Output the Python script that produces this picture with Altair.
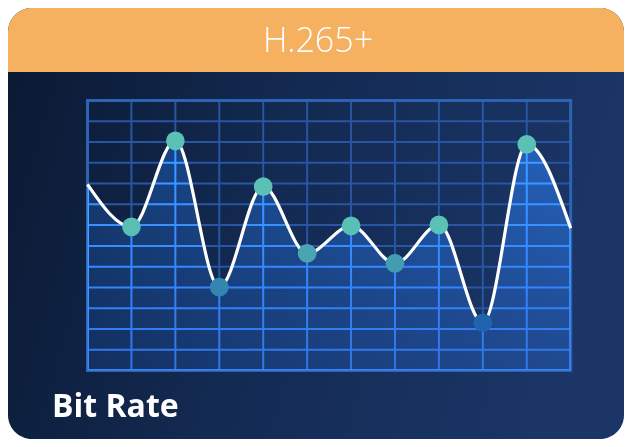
import altair as alt
import pandas as pd

# ---- data ----
x_index = list(range(12))
bit_rate = [8.96, 6.92, 11.06, 4.01, 8.85, 5.64, 6.96, 5.16, 7.01, 2.30, 10.89, 6.85]
marker_index = list(range(1, 11))
v_grid = list(range(12))
h_grid = list(range(14))
title_text = "H.265+"
label_text = "Bit Rate"

W, H = 616, 431

curve = pd.DataFrame({"i": x_index, "v": bit_rate})
markers = curve[curve["i"].isin(marker_index)]
vg = pd.DataFrame({"g": v_grid, "lo": 0, "hi": 13})
hg = pd.DataFrame({"g": h_grid, "lo": 0, "hi": 11})
frame = pd.DataFrame({"x0": [0], "x1": [11], "y0": [0], "y1": [13]})

xs = alt.Scale(domain=[0, 11], range=[79.5, 562.7], nice=False, zero=False)
ys = alt.Scale(domain=[0, 13], range=[362.5, 92.5], nice=False, zero=True)

one = alt.Data(values=[{}])

card = alt.Chart(one).mark_rect(
    cornerRadius=24,
    color=alt.LinearGradient(
        gradient="linear", x1=0, y1=0, x2=1, y2=0.2,
        stops=[alt.GradientStop(color="#0B1932", offset=0),
               alt.GradientStop(color="#132A52", offset=0.5),
               alt.GradientStop(color="#1A3566", offset=1)],
    ),
).encode(x=alt.value(0), x2=alt.value(W), y=alt.value(0), y2=alt.value(H))

header = alt.Chart(one).mark_rect(
    cornerRadiusTopLeft=24, cornerRadiusTopRight=24, color="#F5B060"
).encode(x=alt.value(0), x2=alt.value(W), y=alt.value(0), y2=alt.value(64))

grid_color = "#2856A3"
vrules = alt.Chart(vg).mark_rule(color=grid_color, strokeWidth=2).encode(
    x=alt.X("g:Q", scale=xs, axis=None),
    y=alt.Y("lo:Q", scale=ys, axis=None),
    y2="hi:Q",
)
hrules = alt.Chart(hg).mark_rule(color=grid_color, strokeWidth=2).encode(
    y=alt.Y("g:Q", scale=ys, axis=None),
    x=alt.X("lo:Q", scale=xs, axis=None),
    x2="hi:Q",
)
border = alt.Chart(frame).mark_rect(fillOpacity=0, stroke="#2E62B5", strokeWidth=3).encode(
    x=alt.X("x0:Q", scale=xs, axis=None), x2="x1:Q",
    y=alt.Y("y0:Q", scale=ys, axis=None), y2="y1:Q",
)

area = alt.Chart(curve).mark_area(
    interpolate="monotone",
    blend="color-dodge",
    color=alt.LinearGradient(
        gradient="linear", x1=0, y1=0, x2=0, y2=1,
        stops=[alt.GradientStop(color="#527878", offset=0),
               alt.GradientStop(color="#426262", offset=0.5),
               alt.GradientStop(color="#2C4448", offset=1)],
    ),
).encode(x=alt.X("i:Q", scale=xs, axis=None), y=alt.Y("v:Q", scale=ys, axis=None))

line = alt.Chart(curve).mark_line(
    interpolate="monotone", color="white", strokeWidth=3.2
).encode(x=alt.X("i:Q", scale=xs, axis=None), y=alt.Y("v:Q", scale=ys, axis=None))

points = alt.Chart(markers).mark_circle(size=350, opacity=1).encode(
    x=alt.X("i:Q", scale=xs, axis=None),
    y=alt.Y("v:Q", scale=ys, axis=None),
    color=alt.Color("v:Q", scale=alt.Scale(domain=[2.3, 7.0], range=["#2063AE", "#5BC0B5"],
                                           clamp=True, interpolate="rgb"), legend=None),
)

title = alt.Chart(alt.Data(values=[{"t": title_text}])).mark_text(
    font="Open Sans", fontSize=34, fontWeight=300, color="white",
    align="center", baseline="middle",
).encode(x=alt.value(310), y=alt.value(34), text="t:N")

label = alt.Chart(alt.Data(values=[{"t": label_text}])).mark_text(
    font="Open Sans", fontSize=32, fontWeight="bold", color="white",
    align="left", baseline="alphabetic",
).encode(x=alt.value(44), y=alt.value(409), text="t:N")

chart = alt.layer(card, header, vrules, hrules, border, area, line, points, title, label).properties(
    width=W, height=H, padding=0, autosize=alt.AutoSizeParams(type="none"),
    background="white",
).configure_view(stroke=None)

chart.save("out.html", embed_options={"renderer": "svg", "actions": False})
